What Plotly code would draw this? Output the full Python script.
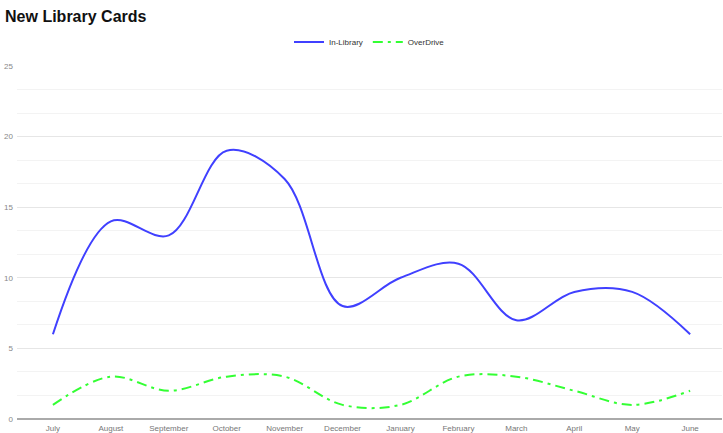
import plotly.graph_objects as go

months = ["July", "August", "September", "October", "November", "December",
          "January", "February", "March", "April", "May", "June"]
in_library = [6, 14, 13, 19, 17, 8, 10, 11, 7, 9, 9, 6]
overdrive = [1, 3, 2, 3, 3, 1, 1, 3, 3, 2, 1, 2]

fig = go.Figure()
fig.add_trace(go.Scatter(x=months, y=in_library, name="In-Library", mode="lines",
                         line=dict(color="#4040ff", width=2, shape="spline", smoothing=1)))
fig.add_trace(go.Scatter(x=months, y=overdrive, name="OverDrive", mode="lines",
                         line=dict(color="#33ff33", width=2, shape="spline", smoothing=1,
                                   dash="10px,5px,3px,5px")))

fig.update_layout(
    width=723, height=433,
    margin=dict(l=17, r=1, t=66, b=14),
    paper_bgcolor="white", plot_bgcolor="white",
    title=dict(text="<b>New Library Cards</b>", x=0.007, xanchor="left", y=0.963, yanchor="middle",
               font=dict(family="Liberation Sans, Arial", size=16, color="#111")),
    legend=dict(orientation="h", x=0.5, xanchor="center", y=1.068, yanchor="middle",
                font=dict(family="Liberation Sans, Arial", size=8, color="#333"),
                itemwidth=30),
    font=dict(family="Liberation Sans, Arial", size=8, color="#777"),
    showlegend=True,
)
fig.update_xaxes(range=[-0.62, 11.55], showgrid=False, showline=False, zeroline=False,
                 ticks="", tickfont=dict(size=8, color="#777"), ticklabelstandoff=3)
fig.update_yaxes(range=[0, 25], dtick=5, tick0=0, showgrid=True, gridcolor="#e6e6e6", gridwidth=1,
                 zeroline=True, zerolinecolor="#aaaaaa", zerolinewidth=2,
                 showline=False, ticks="", tickfont=dict(size=8, color="#888"),
                 minor=dict(dtick=5/3, tick0=0, showgrid=True, gridcolor="#f3f3f3", gridwidth=1),
                 ticklabelstandoff=3)

fig.write_html("out.html", config={"displayModeBar": False},
               post_script="document.body.style.margin='0';document.body.style.overflow='hidden';")
